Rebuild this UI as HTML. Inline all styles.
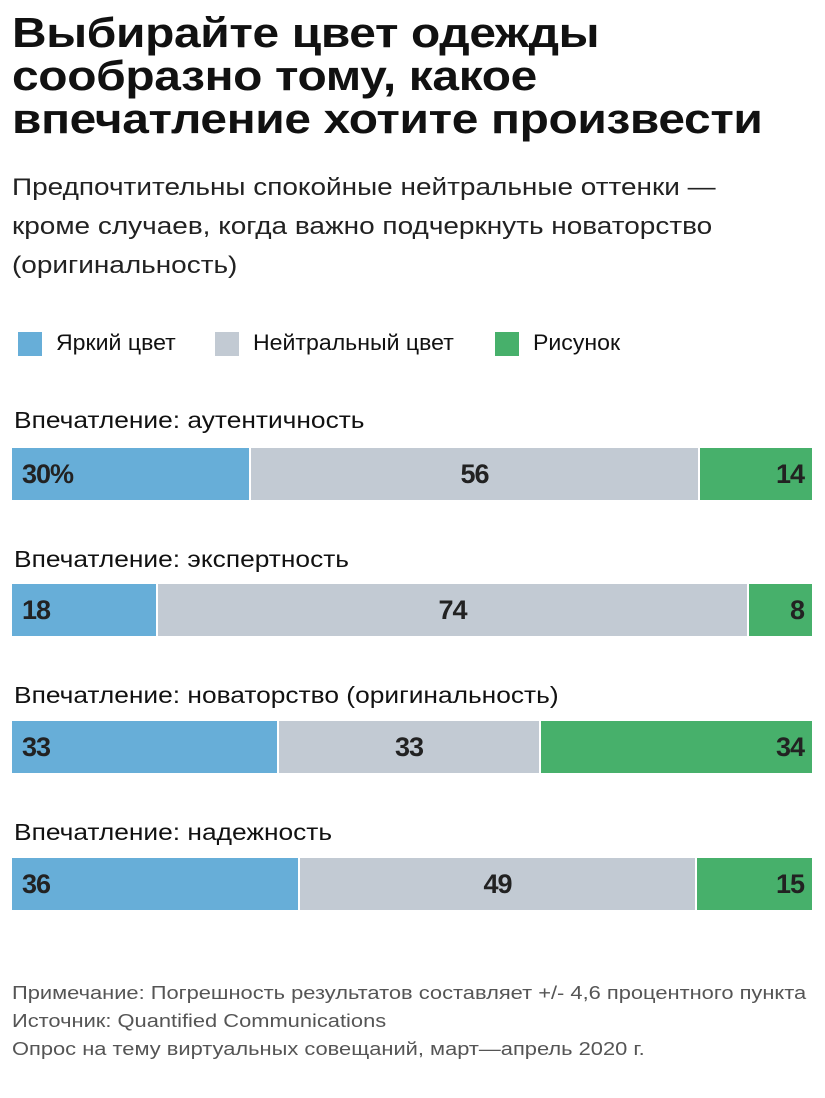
<!DOCTYPE html>
<html><head><meta charset="utf-8"><style>
body{margin:0;width:825px;height:1098px;background:#fff;font-family:"Liberation Sans",sans-serif;color:#1a1a1a;position:relative;overflow:hidden}
.a{position:absolute;white-space:nowrap;transform-origin:0 0}
.t{left:12px;top:11px;font-weight:bold;font-size:42px;line-height:43px;letter-spacing:-0.3px;color:#111;transform:scaleX(1.14)}
.s{left:12px;top:168px;font-size:24px;line-height:39px;color:#222;transform:scaleX(1.165)}
.lg{top:332px;width:24px;height:24px}
.lt{top:330px;font-size:22px;color:#111;transform:scaleX(1.05)}
.lab{left:14px;font-size:23px;color:#111;transform:scaleX(1.145)}
.bar{position:absolute;left:12px;width:800px;height:52px;display:flex}
.bar div{height:100%;box-sizing:border-box;border-right:2px solid #fff;font-size:27px;font-weight:bold;line-height:52px;color:#222;letter-spacing:-1px}
.bar div:last-child{border-right:none}
.b{background:#67aed8;padding-left:10px}
.g{background:#c2cad3;text-align:center}
.gr{background:#47b06b;text-align:right;padding-right:8px}
.f{left:12px;font-size:18px;color:#555;transform:scaleX(1.215)}
</style></head><body>
<div class="a t">Выбирайте цвет одежды<br>сообразно тому, какое<br>впечатление хотите произвести</div>
<div class="a s">Предпочтительны спокойные нейтральные оттенки —<br>кроме случаев, когда важно подчеркнуть новаторство<br>(оригинальность)</div>
<div class="a lg" style="left:18px;background:#67aed8"></div><div class="a lt" style="left:56px">Яркий цвет</div>
<div class="a lg" style="left:215px;background:#c2cad3"></div><div class="a lt" style="left:253px">Нейтральный цвет</div>
<div class="a lg" style="left:495px;background:#47b06b"></div><div class="a lt" style="left:533px">Рисунок</div>

<div class="a lab" style="top:407px">Впечатление: аутентичность</div>
<div class="bar" style="top:448px"><div class="b" style="width:239px">30%</div><div class="g" style="width:449px">56</div><div class="gr" style="width:112px">14</div></div>
<div class="a lab" style="top:546px">Впечатление: экспертность</div>
<div class="bar" style="top:584px"><div class="b" style="width:146px">18</div><div class="g" style="width:591px">74</div><div class="gr" style="width:63px">8</div></div>
<div class="a lab" style="top:682px">Впечатление: новаторство (оригинальность)</div>
<div class="bar" style="top:721px"><div class="b" style="width:267px">33</div><div class="g" style="width:262px">33</div><div class="gr" style="width:271px">34</div></div>
<div class="a lab" style="top:819px">Впечатление: надежность</div>
<div class="bar" style="top:858px"><div class="b" style="width:288px">36</div><div class="g" style="width:397px">49</div><div class="gr" style="width:115px">15</div></div>

<div class="a f" style="top:983px">Примечание: Погрешность результатов составляет +/- 4,6 процентного пункта</div>
<div class="a f" style="top:1011px">Источник: Quantified Communications</div>
<div class="a f" style="top:1039px">Опрос на тему виртуальных совещаний, март—апрель 2020 г.</div>
</body></html>
